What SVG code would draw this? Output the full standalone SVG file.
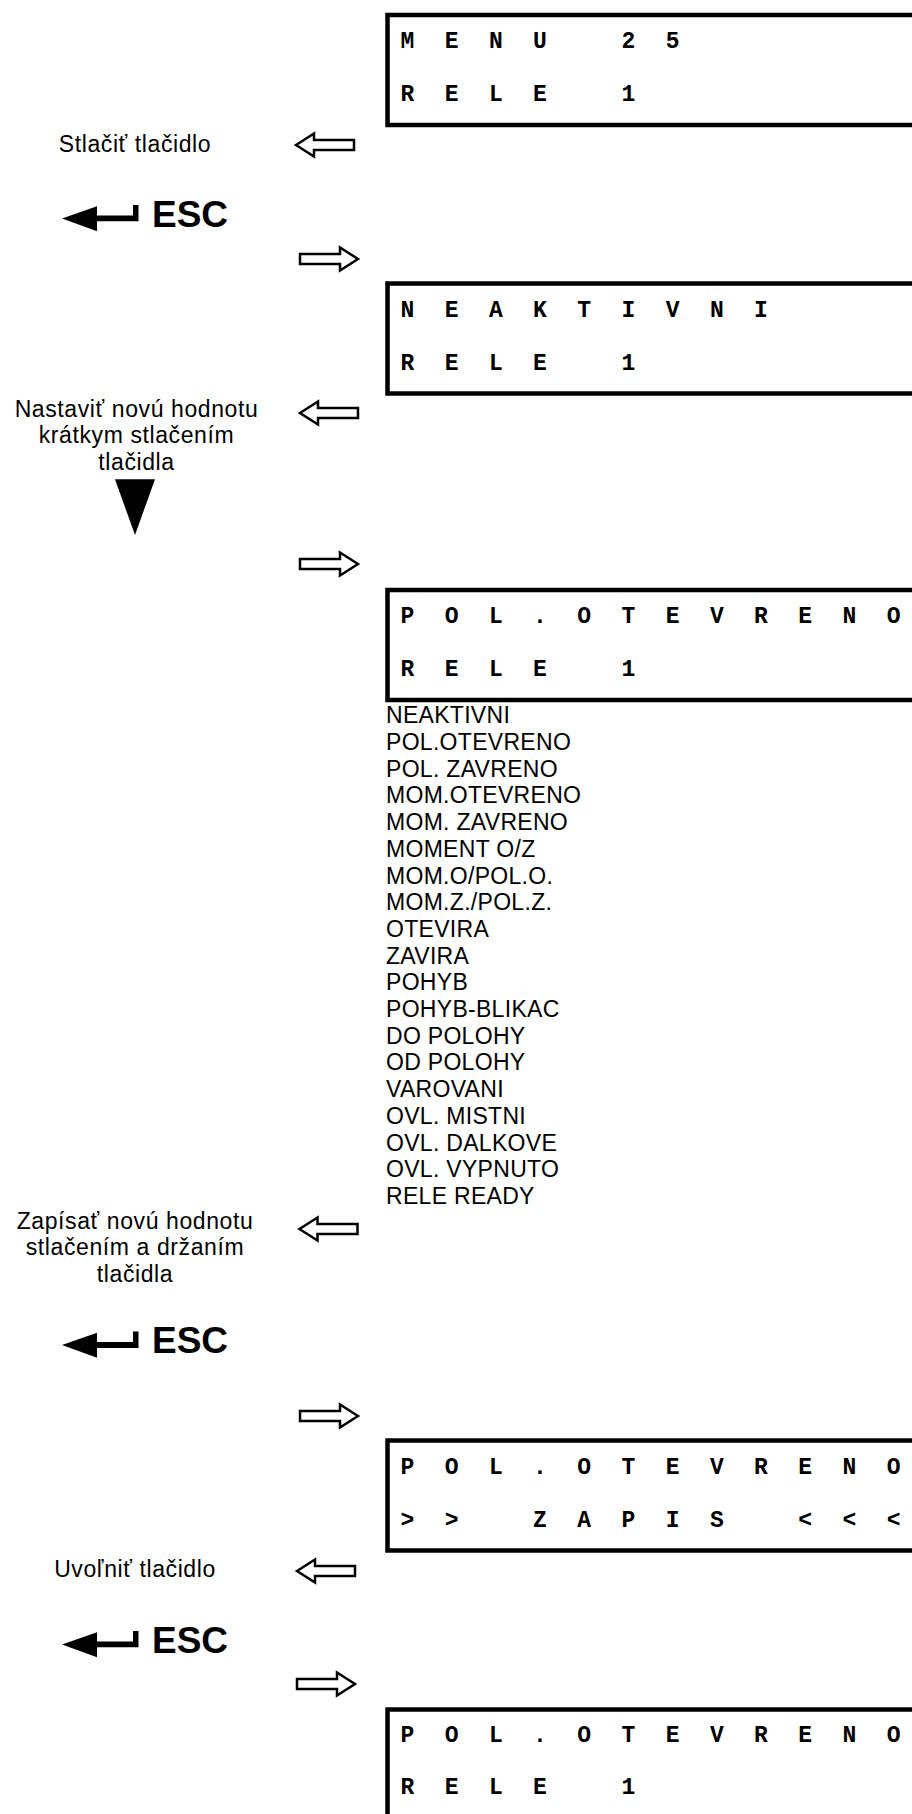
<svg xmlns="http://www.w3.org/2000/svg" width="912" height="1814" viewBox="0 0 912 1814">
<defs>
<style>
.lcd{font-family:"Liberation Mono","Courier New",monospace;font-weight:bold;font-size:23px;fill:#000}
.lbl{font-family:"Liberation Sans",Arial,sans-serif;font-size:23px;letter-spacing:0.6px;fill:#000;text-anchor:middle}
.lst{font-family:"Liberation Sans",Arial,sans-serif;font-size:23px;letter-spacing:0.3px;fill:#000}
.esc{font-family:"Liberation Sans",Arial,sans-serif;font-weight:bold;font-size:37px;fill:#000}
.box{fill:#fff;stroke:#000;stroke-width:4.5}
.oarr{fill:#fff;stroke:#000;stroke-width:2.5;stroke-linejoin:miter}
.escarr{fill:#000}
</style>
<path id="larr" d="M0,0 L18,-11.5 L18,-5 L58,-5 L58,5 L18,5 L18,11.5 Z"/>
<path id="rarr" d="M58,0 L40,-11.5 L40,-5 L0,-5 L0,5 L40,5 L40,11.5 Z"/>
<path id="escpath" d="M62,-8.3 L97,-20.5 L97,-11.2 L133,-11.2 L133,-21.7 L138.5,-21.7 L138.5,-5.4 L97,-5.4 L97,4.5 Z"/>
</defs>

<rect width="912" height="1814" fill="#fff"/>

<g id="box1">
<rect class="box" x="387.5" y="15" width="600" height="110"/>
<text class="lcd" x="400.5 444.7 488.9 533.1 577.3 621.5 665.7" y="48">MENU 25</text>
<text class="lcd" x="400.5 444.7 488.9 533.1 577.3 621.5" y="101">RELE 1</text>
</g>

<g id="box2">
<rect class="box" x="387.5" y="283.5" width="600" height="110"/>
<text class="lcd" x="400.5 444.7 488.9 533.1 577.3 621.5 665.7 709.9 754.1" y="316.5">NEAKTIVNI</text>
<text class="lcd" x="400.5 444.7 488.9 533.1 577.3 621.5" y="369.5">RELE 1</text>
</g>

<g id="box3">
<rect class="box" x="387.5" y="590" width="600" height="110"/>
<text class="lcd" x="400.5 444.7 488.9 533.1 577.3 621.5 665.7 709.9 754.1 798.3 842.5 886.7" y="623">POL.OTEVRENO</text>
<text class="lcd" x="400.5 444.7 488.9 533.1 577.3 621.5" y="676">RELE 1</text>
</g>

<g id="options">
<text class="lst" x="386" y="723.3">NEAKTIVNI<tspan x="386" dy="26.7">POL.OTEVRENO</tspan><tspan x="386" dy="26.7">POL. ZAVRENO</tspan><tspan x="386" dy="26.7">MOM.OTEVRENO</tspan><tspan x="386" dy="26.7">MOM. ZAVRENO</tspan><tspan x="386" dy="26.7">MOMENT O/Z</tspan><tspan x="386" dy="26.7">MOM.O/POL.O.</tspan><tspan x="386" dy="26.7">MOM.Z./POL.Z.</tspan><tspan x="386" dy="26.7">OTEVIRA</tspan><tspan x="386" dy="26.7">ZAVIRA</tspan><tspan x="386" dy="26.7">POHYB</tspan><tspan x="386" dy="26.7">POHYB-BLIKAC</tspan><tspan x="386" dy="26.7">DO POLOHY</tspan><tspan x="386" dy="26.7">OD POLOHY</tspan><tspan x="386" dy="26.7">VAROVANI</tspan><tspan x="386" dy="26.7">OVL. MISTNI</tspan><tspan x="386" dy="26.7">OVL. DALKOVE</tspan><tspan x="386" dy="26.7">OVL. VYPNUTO</tspan><tspan x="386" dy="26.7">RELE READY</tspan></text>
</g>

<g id="box4">
<rect class="box" x="387.5" y="1440.5" width="600" height="110"/>
<text class="lcd" x="400.5 444.7 488.9 533.1 577.3 621.5 665.7 709.9 754.1 798.3 842.5 886.7" y="1473.5">POL.OTEVRENO</text>
<text class="lcd" x="400.5 444.7 488.9 533.1 577.3 621.5 665.7 709.9 754.1 798.3 842.5 886.7" y="1526.5">&gt;&gt; ZAPIS &lt;&lt;&lt;</text>
</g>

<g id="box5">
<rect class="box" x="387.5" y="1709.5" width="600" height="110"/>
<text class="lcd" x="400.5 444.7 488.9 533.1 577.3 621.5 665.7 709.9 754.1 798.3 842.5 886.7" y="1742">POL.OTEVRENO</text>
<text class="lcd" x="400.5 444.7 488.9 533.1 577.3 621.5" y="1793.5">RELE 1</text>
</g>

<g id="step1">
<text class="lbl" x="135" y="151.7">Stlačiť tlačidlo</text>
</g>
<g id="esc1" transform="translate(0,226.7)">
<use href="#escpath" class="escarr"/>
<text class="esc" x="152" y="0">ESC</text>
</g>

<g id="step2">
<text class="lbl" x="136.5" y="416.7">Nastaviť novú hodnotu<tspan x="136.5" dy="26.6">krátkym stlačením</tspan><tspan x="136.5" dy="26.6">tlačidla</tspan></text>
<path d="M115,479.3 L155,479.3 L135,535 Z" fill="#000"/>
</g>

<g id="step3">
<text class="lbl" x="135" y="1228.5">Zapísať novú hodnotu<tspan x="135" dy="26.6">stlačením a držaním</tspan><tspan x="135" dy="26.6">tlačidla</tspan></text>
</g>
<g id="esc2" transform="translate(0,1353.3)">
<use href="#escpath" class="escarr"/>
<text class="esc" x="152" y="0">ESC</text>
</g>

<g id="step4">
<text class="lbl" x="135" y="1576.7">Uvoľniť tlačidlo</text>
</g>
<g id="esc3" transform="translate(0,1652.7)">
<use href="#escpath" class="escarr"/>
<text class="esc" x="152" y="0">ESC</text>
</g>

<g id="connectors">
<use href="#larr" class="oarr" x="296" y="145"/>
<use href="#rarr" class="oarr" x="300" y="259"/>
<use href="#larr" class="oarr" x="300" y="413"/>
<use href="#rarr" class="oarr" x="300" y="564"/>
<use href="#larr" class="oarr" x="299.5" y="1229"/>
<use href="#rarr" class="oarr" x="300" y="1416"/>
<use href="#larr" class="oarr" x="297" y="1571"/>
<use href="#rarr" class="oarr" x="297" y="1684"/>
</g>
</svg>
